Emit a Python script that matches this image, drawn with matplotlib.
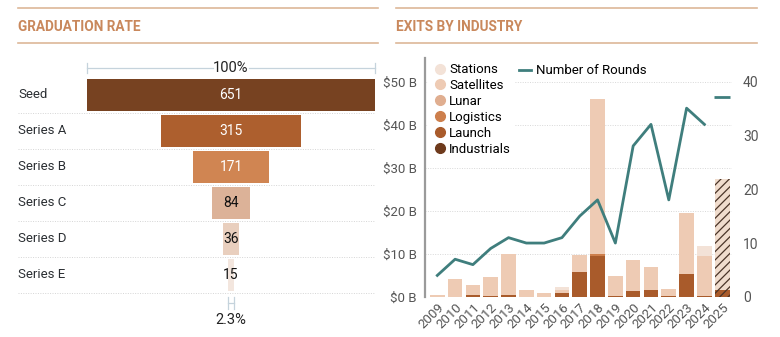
import matplotlib
matplotlib.use("Agg")
import matplotlib.pyplot as plt
from matplotlib.lines import Line2D
import numpy as np

plt.rcParams['font.family'] = ['Liberation Sans Narrow', 'Roboto', 'DejaVu Sans']
plt.rcParams['hatch.linewidth'] = 0.9

# funnel data
stages = ['Seed', 'Series A', 'Series B', 'Series C', 'Series D', 'Series E']
companies = [651, 315, 171, 84, 36, 15]
stage_colors = ['#774221', '#ad5f2e', '#d08552', '#dcb298', '#e9cfbe', '#f3e6de']
stage_text = ['white', 'white', 'white', '#111111', '#111111', '#111111']
top_pct = '100%'
bottom_pct = '2.3%'

# exits data ($B) per year
years = [str(y) for y in range(2009, 2026)]
industrials = [0, 0, 0, 0, 0, 0, 0, 0, 0, 0, 0, 0, 0, 0, 0, 0, 0]
launch = [0, 0, 0.45, 0.25, 0.45, 0, 0, 0.9, 5.7, 9.5, 0.2, 1.4, 1.7, 0.2, 5.4, 0.2, 1.6]
logistics = [0, 0, 0, 0, 0, 0, 0, 0, 0, 0.5, 0, 0, 0, 0, 0, 0, 0]
lunar = [0, 0, 0, 0, 0, 0, 0, 0, 0, 0, 0, 0, 0, 0, 0, 0, 0]
satellites = [0.45, 4.1, 2.35, 4.45, 9.45, 1.6, 0.86, 0.8, 4.1, 36.1, 4.6, 7.1, 5.2, 1.75, 14.2, 9.25, 0]
stations = [0, 0, 0, 0, 0, 0, 0, 0.55, 0, 0, 0, 0, 0, 0, 0, 2.35, 0]
projected = [0, 0, 0, 0, 0, 0, 0, 0, 0, 0, 0, 0, 0, 0, 0, 0, 25.8]
rounds = [4, 7, 6, 9, 11, 10, 10, 11, 15, 18, 10, 28, 32, 18, 35, 32, 37]

series = [('Industrials', industrials, '#6e3a1c'),
          ('Launch', launch, '#a95b2b'),
          ('Logistics', logistics, '#cd7f4c'),
          ('Lunar', lunar, '#e0ae90'),
          ('Satellites', satellites, '#eecbb4'),
          ('Stations', stations, '#f3e2d7')]

W, H = 780, 337
fig = plt.figure(figsize=(W / 100, H / 100), dpi=100)

def px_axes(x0, y0, x1, y1):
    # pixel box (top-left origin) -> axes
    return fig.add_axes([x0 / W, 1 - y1 / H, (x1 - x0) / W, (y1 - y0) / H])

# headers
hdr_col = '#c9885c'
rule_col = '#ddb898'
for x0, x1, title in [(18, 378, 'GRADUATION RATE'), (396, 757, 'EXITS BY INDUSTRY')]:
    fig.add_artist(Line2D([x0 / W, x1 / W], [1 - 8 / H] * 2, color=rule_col, lw=1.2))
    fig.add_artist(Line2D([x0 / W, x1 / W], [1 - 43 / H] * 2, color=rule_col, lw=1.2))
    fig.text(x0 / W, 1 - 27 / H, title, color=hdr_col, fontsize=9.8, fontweight='bold',
             family=['Roboto', 'DejaVu Sans'], va='center', ha='left')

# ---- funnel ----
ax = px_axes(18, 55, 378, 335)
scale = 288 / 651 / 360  # fraction of axis width per company
ax.set_xlim(-213 / 360 / scale, (360 - 213) / 360 / scale)
ax.set_ylim(6.67, -1.11)
ax.axis('off')
ypos = np.arange(len(stages))
ax.barh(ypos, companies, left=-np.array(companies) / 2, height=0.89, color=stage_colors)
for i, (s, v) in enumerate(zip(stages, companies)):
    ax.text(0.0, i, s, transform=ax.get_yaxis_transform(), ha='left', va='center',
            fontsize=9.5, color='#2b2f33')
    ax.text(0, i, str(v), ha='center', va='center', fontsize=10, color=stage_text[i])
xr = ax.get_xlim()
for i in range(len(stages)):
    ax.plot([xr[0], companies[0] / 2], [i + 0.5, i + 0.5], ls=(0, (1, 1.5)),
            color='#d5d5d5', lw=0.7)
br_col = '#c5d3dc'
top_w = companies[0] / 2
ax.plot([-top_w, -40], [-0.75, -0.75], color=br_col, lw=0.9)
ax.plot([40, top_w], [-0.75, -0.75], color=br_col, lw=0.9)
ax.plot([-top_w, -top_w], [-0.9, -0.6], color=br_col, lw=0.9)
ax.plot([top_w, top_w], [-0.9, -0.6], color=br_col, lw=0.9)
ax.text(0, -0.75, top_pct, ha='center', va='center', fontsize=10.5, color='#222222')
bw = companies[-1] / 2
ax.plot([-bw, bw], [5.78, 5.78], color=br_col, lw=0.9)
ax.plot([-bw, -bw], [5.62, 5.94], color=br_col, lw=0.9)
ax.plot([bw, bw], [5.62, 5.94], color=br_col, lw=0.9)
ax.text(0, 6.25, bottom_pct, ha='center', va='center', fontsize=10.5, color='#222222')

# ---- exits ----
ax2 = px_axes(425, 58, 732, 297)
x = np.arange(len(years))
bottom = np.zeros(len(years))
handles = []
for name, vals, col in series:
    ax2.bar(x, vals, bottom=bottom, width=0.82, color=col, zorder=2)
    bottom += np.array(vals)
    handles.append(Line2D([], [], marker='o', ls='', markersize=7, color=col, label=name))
ax2.bar(x, projected, bottom=bottom, width=0.82, color='#f0dccd', zorder=2)
tot = bottom + np.array(projected)
proj_mask = np.array(projected) > 0
ax2.bar(x[proj_mask], tot[proj_mask], width=0.82,
        facecolor='none', edgecolor='#4a3428', hatch='////', lw=0, zorder=3)
ax2.set_xlim(-0.69, 16.55)
ax2.set_ylim(0, 55.6)
ax2.set_yticks([0, 10, 20, 30, 40, 50])
ax2.set_yticklabels(['$%d B' % v for v in [0, 10, 20, 30, 40, 50]])
ax2.yaxis.grid(True, ls=(0, (1, 1.5)), color='#d8d8d8', lw=0.7, zorder=0)
ax2.set_axisbelow(True)
for sp in ['top', 'right', 'bottom']:
    ax2.spines[sp].set_visible(False)
ax2.spines['left'].set_color('#9a9a9a')
ax2.spines['left'].set_linewidth(1.6)
ax2.tick_params(axis='y', length=0, labelsize=9.5, labelcolor='#555555', pad=6)
ax2.set_xticks(x)
ax2.set_xticklabels(years, rotation=45, ha='right', rotation_mode='anchor')
ax2.tick_params(axis='x', length=0, labelsize=9.5, labelcolor='#555555', pad=3)

ax3 = ax2.twinx()
ax3.plot(x[:-1], rounds[:-1], color='#3f7e7d', lw=2, zorder=4)
ax3.plot(x[-1:], rounds[-1:], marker='_', markersize=12, mew=2, color='#3f7e7d', ls='')
ax3.set_ylim(0, 44.3)
ax3.set_yticks([0, 10, 20, 30, 40])
for sp in ['top', 'right', 'bottom', 'left']:
    ax3.spines[sp].set_visible(False)
ax3.tick_params(axis='y', length=0, labelsize=10, labelcolor='#555555', pad=8)

leg = ax3.legend(handles=handles[::-1], loc='upper left', bbox_to_anchor=(0.01, 0.995),
                 frameon=True, fontsize=9.5, handletextpad=0.1, labelspacing=0.22,
                 borderpad=0.3, borderaxespad=0, handlelength=1.2)
leg.get_frame().set_edgecolor('none')
leg.get_frame().set_facecolor('white')
leg.get_frame().set_alpha(1)
ax3.add_artist(leg)
ax3.legend(handles=[Line2D([], [], color='#3f7e7d', lw=2, label='Number of Rounds')],
           loc='upper left', bbox_to_anchor=(0.29, 0.995), frameon=False, fontsize=9.5,
           handlelength=0.9, handletextpad=0.4, borderaxespad=0)

fig.savefig('out.png', dpi=100)
